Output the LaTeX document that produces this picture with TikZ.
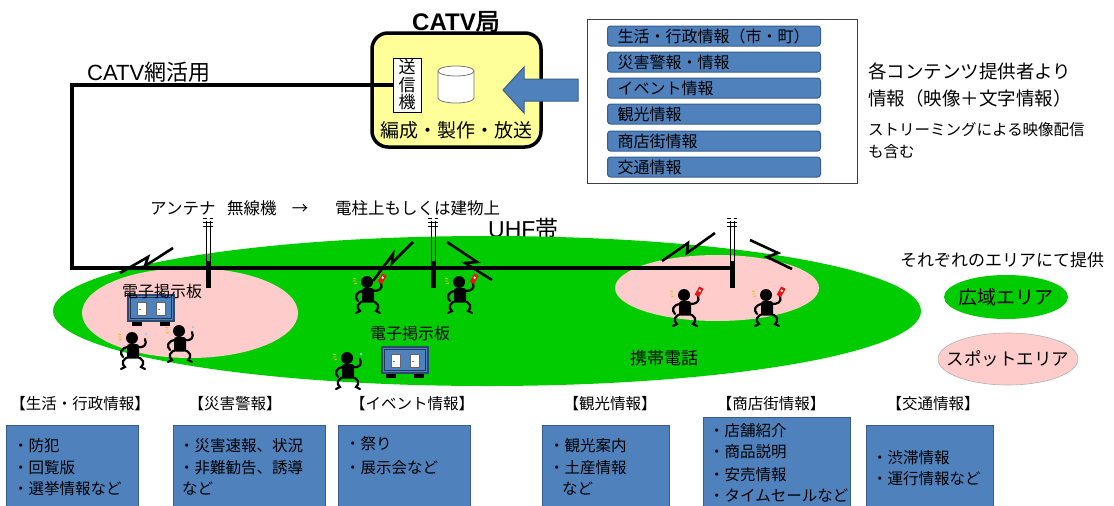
\documentclass[tikz,border=0pt]{standalone}
\usepackage{fontspec}
\setmainfont{Noto Sans CJK JP}
\newfontfamily\latin{Liberation Sans}
\newfontfamily\cjkbold{Noto Sans CJK JP}[FakeBold=2.5]
\usetikzlibrary{shapes.geometric}
\newcommand\setfs[1]{\fontsize{#1}{#1}\selectfont}

\definecolor{areagreen}{RGB}{0,204,0}
\definecolor{spotpink}{RGB}{255,204,204}
\definecolor{officeblue}{RGB}{79,129,189}
\definecolor{bordblue}{RGB}{56,93,138}
\definecolor{catvyellow}{RGB}{255,255,153}
\definecolor{phonered}{RGB}{230,20,20}
\definecolor{soundmark}{RGB}{230,190,40}
\definecolor{fistblue}{RGB}{150,210,240}

\tikzset{
  lbl/.style={inner sep=0pt, anchor=base west},
  lblc/.style={inner sep=0pt, anchor=base},
  cable/.style={line width=3.5pt},
  bolt/.style={line width=2.6pt, line join=miter},
  contentbar/.style={draw=bordblue, fill=officeblue, line width=1pt,
    rounded corners=3pt, minimum height=20pt, inner xsep=10pt,
    inner ysep=0pt, text width=193pt, align=left, anchor=west,
    font=\setfs{16}},
  infobox/.style={draw=bordblue, fill=officeblue, line width=1pt,
    anchor=north west, inner sep=0pt},
  limb/.style={line width=2.2pt, line cap=round},
  % radio mast standing on its base point
  mast/.pic={
    \fill (-2.5,0) rectangle (2.5,-27);
    \draw[line width=0.8pt] (-2,-27) -- (-2,-67) (2,-27) -- (2,-67);
    \draw[line width=0.9pt] (-5,-66) -- (5,-66) (-5,-61.5) -- (5,-61.5);
    \draw[line width=0.9pt] (-5,-70) -- (-1.5,-70) (1.5,-70) -- (5,-70);
  },
  % little running figure, origin at the body
  walker/.pic={
    \fill (-1,-12) circle (6pt);
    \fill[rounded corners=2.5pt] (-6,-6) rectangle (6,8.5);
    \draw[limb] (-5,-3) .. controls (-12,-2) and (-14,3) .. (-10,7);
    \draw[limb] (-3,7) .. controls (-11,8) and (-12,14) .. (-8,17) -- (-12,19);
    \draw[limb] (3,7) .. controls (11,8) and (12,14) .. (8,17) -- (12,19);
    \draw[soundmark, line width=0.8pt] (-15,-16) -- (-12,-15)
      (-15,-13) -- (-12,-13) (-14,-10) -- (-11,-11);
  },
  phoneman/.pic={
    \pic {walker};
    \draw[limb] (5,-3) .. controls (11,-3) and (15,-5) .. (13,-11);
    \fill[phonered, rotate around={-30:(14,-15)}] (11.5,-20) rectangle (16.5,-10.5);
    \fill[white, rotate around={-30:(14,-15)}] (13,-17.5) rectangle (15,-15.5);
  },
  cheerman/.pic={
    \pic {walker};
    \draw[limb] (5,-3) .. controls (12,-2) and (14,-6) .. (12,-11);
    \fill[fistblue] (13,-16) circle (1.3pt);
  },
  % electronic notice board on two feet
  board/.pic={
    \fill (-19,12) rectangle (-9,18);
    \fill (9,12) rectangle (19,18);
    \draw[fill=officeblue, draw=bordblue!80!black, line width=1.5pt] (-23,-13) rectangle (23,13);
    \draw[bordblue!60!black, line width=0.5pt] (-20.5,-10.5) rectangle (20.5,10.5);
    \draw[fill=white, draw=black!60, line width=0.5pt] (-14,-6) rectangle (-5,7);
    \draw[fill=white, draw=black!60, line width=0.5pt] (5,-6) rectangle (14,7);
    \draw[gray, line width=0.6pt] (-12.5,1) -- (-10,1) (6.5,1) -- (9,1);
  },
}

\begin{document}
\begin{tikzpicture}[x=1pt,y=-1pt]
\useasboundingbox (0,0) rectangle (1114,506);
\clip (0,0) rectangle (1114,506);

% band label, partly covered by the service area
\node[lbl, font=\setfs{23}] (uhf) at (488,237) {{\latin UHF}帯};

% service areas
\fill[areagreen] (487,311) ellipse [x radius=434pt, y radius=75pt];
\fill[spotpink] (190,313) ellipse [x radius=108pt, y radius=45pt];
\fill[spotpink] (717,288) ellipse [x radius=102pt, y radius=33pt];

% CATV station
\draw[line width=3.5pt, fill=catvyellow, rounded corners=16pt] (372,33) rectangle (541,147);
\node[lblc, font=\setfs{24}] (title) at (456,30) {{\latin\bfseries CATV}{\cjkbold 局}};
\node[draw, fill=white, line width=0.8pt, minimum width=28pt, minimum height=54pt,
      inner sep=0pt, align=center, font=\fontsize{17}{17.5}\selectfont] (tx) at (407,85) {送\\信\\機};
\draw[black!55, fill=white, line width=0.8pt] (438,71) -- (438,98)
  arc[start angle=180, end angle=360, x radius=18pt, y radius=5pt] -- (474,71);
\draw[black!55, fill=white, line width=0.8pt] (456,71) ellipse [x radius=18pt, y radius=5pt];
\node[lblc, font=\setfs{19}] (prod) at (456,137) {編成・製作・放送};

% cable network
\coordinate (ctl) at (72,85);
\coordinate (cbl) at (72,268);
\coordinate (m1) at (208,288);
\coordinate (m2) at (433,288);
\coordinate (m3) at (732,288);
\node[lbl, font=\setfs{22}] (net) at (87,80) {{\latin CATV}網活用};
\draw[cable] (tx.west) -- (ctl) -- (cbl) -- (cbl -| m3);
\pic at (m1) {mast};
\pic at (m2) {mast};
\pic at (m3) {mast};

% radio links
\draw[bolt] (120,273) -- (148,257) -- (145,266) -- (173,248);
\draw[bolt] (373,281) -- (393,254) -- (392,263) -- (413,242);
\draw[bolt] (447,242) -- (477,262) -- (465,263) -- (492,280);
\draw[bolt] (662,261) -- (688,243) -- (687,253) -- (715,233);
\draw[bolt] (750,240) -- (778,253) -- (767,257) -- (792,269);

\node[lbl, font=\setfs{16.5}] (ant) at (150,214) {アンテナ};
\node[lbl, font=\setfs{16.5}] (radio) at (227,214) {無線機};
\node[lblc, font=\setfs{16.5}] (to) at (300,214) {→};
\node[lbl, font=\setfs{16.5}] (pole) at (335,214) {電柱上もしくは建物上};

% people and boards
\pic at (133,350) {cheerman};
\pic at (180,343) {cheerman};
\pic at (368,294) {phoneman};
\pic at (460,294) {phoneman};
\pic at (348,370) {cheerman};
\pic at (685,307) {phoneman};
\pic at (767,307) {phoneman};
\pic at (151,308) {board};
\pic at (405,360) {board};
\node[lblc, font=\setfs{16}] (bd1) at (162,297) {電子掲示板};
\node[lblc, font=\setfs{16}] (bd2) at (410,339) {電子掲示板};
\node[lblc, font=\setfs{17}] (mob) at (664,364) {携帯電話};

% legend
\node[lbl, font=\setfs{17}] (each) at (900,266.5) {それぞれのエリアにて提供};
\fill[areagreen] (1006,297) ellipse [x radius=62pt, y radius=22pt];
\node[font=\setfs{19}, inner sep=0pt] (wide) at (1006,297) {広域エリア};
\draw[draw=black!30, line width=0.6pt, fill=spotpink] (1008,359) ellipse [x radius=70pt, y radius=26pt];
\node[font=\setfs{17.5}, inner sep=0pt] (spot) at (1008,359) {スポットエリア};

% content providers
\node[draw=black!75, line width=1pt, minimum width=270pt, minimum height=164pt,
      anchor=north west, inner sep=0pt] (cbox) at (587,19) {};
\node[contentbar] (c1) at (607,36) {生活・行政情報（市・町）};
\node[contentbar] (c2) at (607,62) {災害警報・情報};
\node[contentbar] (c3) at (607,88) {イベント情報};
\node[contentbar] (c4) at (607,114) {観光情報};
\node[contentbar] (c5) at (607,141) {商店街情報};
\node[contentbar] (c6) at (607,167) {交通情報};
\draw[fill=officeblue, draw=bordblue, line width=1pt, line join=miter]
  (578,79) -- (524,79) -- (524,67) -- (503,90) -- (524,113) -- (524,101) -- (578,101) -- cycle;

\node[lbl, font=\setfs{18.5}] (src1) at (868,78) {各コンテンツ提供者より};
\node[lbl, font=\setfs{18.5}] (src2) at (868,105) {情報（映像＋文字情報）};
\node[lbl, font=\setfs{15.5}] (src3) at (868,135) {ストリーミングによる映像配信};
\node[lbl, font=\setfs{15.5}] (src4) at (868,157) {も含む};

% service categories
\node[lblc, font=\setfs{15.5}] (k1) at (80,409) {【生活・行政情報】};
\node[lblc, font=\setfs{15.5}] (k2) at (235,409) {【災害警報】};
\node[lblc, font=\setfs{15.5}] (k3) at (412,409) {【イベント情報】};
\node[lblc, font=\setfs{15.5}] (k4) at (610,409) {【観光情報】};
\node[lblc, font=\setfs{15.5}] (k5) at (771,409) {【商店街情報】};
\node[lblc, font=\setfs{15.5}] (k6) at (933,409) {【交通情報】};

\node[infobox, minimum width=132pt, minimum height=100pt] (b1) at (6,425) {};
\node[infobox, minimum width=152pt, minimum height=100pt] (b2) at (173,425) {};
\node[infobox, minimum width=132pt, minimum height=100pt] (b3) at (338,425) {};
\node[infobox, minimum width=127pt, minimum height=100pt] (b4) at (542,425) {};
\node[infobox, minimum width=147pt, minimum height=110pt] (b5) at (703,417) {};
\node[infobox, minimum width=127pt, minimum height=100pt] (b6) at (866,425) {};

\begin{scope}[every node/.style={lbl, font=\setfs{15.5}}]
\node at (13,451) {・防犯};
\node at (13,473) {・回覧版};
\node at (13,494) {・選挙情報など};
\node at (179,451) {・災害速報、状況};
\node at (179,473) {・非難勧告、誘導};
\node at (182,494) {など};
\node at (345,449) {・祭り};
\node at (345,473) {・展示会など};
\node at (549,451) {・観光案内};
\node at (549,473) {・土産情報};
\node at (562,494) {など};
\node at (709,436) {・店舗紹介};
\node at (709,457.5) {・商品説明};
\node at (709,480) {・安売情報};
\node at (709,501) {・タイムセールなど};
\node at (872,463) {・渋滞情報};
\node at (872,484) {・運行情報など};
\end{scope}
\end{tikzpicture}
\end{document}
